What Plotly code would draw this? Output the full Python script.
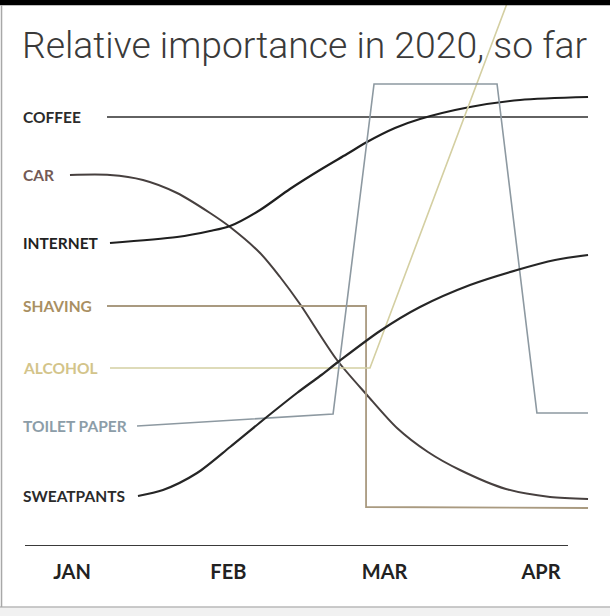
import plotly.graph_objects as go

# x in months after Jan 1 (0 = JAN), y = relative importance
MONTHS = ["JAN", "FEB", "MAR", "APR"]
MONTH_POS = [0, 1, 2, 3]

coffee_x = [0.224, 3.301]
coffee_y = [8.58, 8.58]

car_x = [-0.013, 0.243, 0.454, 0.672, 0.883, 1.011, 1.203, 1.331, 1.458, 1.695, 1.887, 2.079, 2.277, 2.482, 2.776, 3.058, 3.301]
car_y = [7.42, 7.42, 7.32, 7.06, 6.66, 6.38, 5.86, 5.38, 4.84, 3.72, 3.02, 2.36, 1.88, 1.52, 1.14, 0.98, 0.94]

internet_x = [0.243, 0.672, 0.883, 1.011, 1.203, 1.394, 1.586, 1.759, 1.887, 2.066, 2.226, 2.546, 2.866, 3.301]
internet_y = [6.06, 6.18, 6.30, 6.40, 6.72, 7.14, 7.52, 7.84, 8.08, 8.36, 8.54, 8.78, 8.92, 8.98]

shaving_x = [0.224, 1.881, 1.881, 3.301]
shaving_y = [4.80, 4.80, 0.78, 0.76]

alcohol_x = [0.243, 1.906, 2.815]
alcohol_y = [3.56, 3.56, 11.12]

toilet_x = [0.416, 1.670, 1.932, 2.719, 2.974, 3.301]
toilet_y = [2.40, 2.64, 9.24, 9.24, 2.66, 2.66]

sweat_x = [0.422, 0.582, 0.800, 1.011, 1.222, 1.439, 1.586, 1.702, 1.970, 2.226, 2.546, 2.847, 3.090, 3.301]
sweat_y = [1.00, 1.12, 1.46, 1.98, 2.52, 3.06, 3.40, 3.68, 4.30, 4.78, 5.22, 5.52, 5.72, 5.82]

series = [
    # name, x, y, line colour, label colour, shape, width
    ("COFFEE", coffee_x, coffee_y, "#2e2e2e", "#2b2b2b", "linear", 1.6),
    ("CAR", car_x, car_y, "#47403f", "#735a55", "spline", 2),
    ("INTERNET", internet_x, internet_y, "#1f1f1f", "#222222", "spline", 2.2),
    ("SHAVING", shaving_x, shaving_y, "#a99a80", "#a98f62", "linear", 1.8),
    ("ALCOHOL", alcohol_x, alcohol_y, "#d4cfa2", "#d3c48a", "linear", 1.6),
    ("TOILET PAPER", toilet_x, toilet_y, "#8d99a1", "#8c9da8", "linear", 1.6),
    ("SWEATPANTS", sweat_x, sweat_y, "#262626", "#2b2b2b", "spline", 2.2),
]

label_x = -0.326

fig = go.Figure()
for name, xs, ys, lc, tc, shape, w in series:
    fig.add_trace(go.Scatter(
        x=xs, y=ys, mode="lines", name=name,
        line=dict(color=lc, width=w, shape=shape, smoothing=0.8),
        showlegend=False, hoverinfo="skip",
    ))
    fig.add_annotation(
        x=label_x, y=ys[0], text=name, showarrow=False,
        xanchor="left", yanchor="middle",
        font=dict(family="Lato", size=15.5, weight=700, color=tc),
    )

fig.update_layout(
    width=610, height=616,
    margin=dict(l=0, r=0, t=0, b=70),
    paper_bgcolor="white", plot_bgcolor="white",
    title=dict(
        text="Relative importance in 2020, so far",
        x=0.036, xanchor="left", y=0.927, yanchor="middle",
        font=dict(family="Roboto", size=37.3, weight=300, color="#3a3a3a"),
    ),
    xaxis=dict(
        range=[-0.4606, 3.4415], showgrid=False, zeroline=False, showline=False,
        tickvals=MONTH_POS, ticktext=MONTHS,
        ticks="outside", ticklen=8, tickcolor="rgba(0,0,0,0)",
        tickfont=dict(family="Lato", size=20, weight=700, color="#222222"),
        fixedrange=True,
    ),
    yaxis=dict(range=[0, 10.92], visible=False, fixedrange=True),
    shapes=[
        # baseline
        dict(type="line", xref="paper", yref="y", x0=25 / 610, x1=568 / 610, y0=0, y1=0,
             line=dict(color="#3a3a3a", width=2)),
        # black strip at the top
        dict(type="rect", xref="paper", yref="paper", x0=0, x1=1, y0=1 - 6 / 616, y1=1.0,
             fillcolor="black", line_width=0, layer="above"),
        # grey footer
        dict(type="rect", xref="paper", yref="paper", x0=0, x1=1, y0=-70 / 546, y1=-61 / 546,
             fillcolor="#f1f1f1", line_width=0),
        dict(type="line", xref="paper", yref="paper", x0=0, x1=1, y0=-61 / 546, y1=-61 / 546,
             line=dict(color="#b8b8b8", width=1.5)),
        # left frame edge
        dict(type="line", xref="paper", yref="paper", x0=0.0025, x1=0.0025, y0=-61 / 546, y1=1 - 6 / 616,
             line=dict(color="#a8a8a8", width=1.5)),
    ],
)

fig.write_html("out.html", config={"displayModeBar": False},
               post_script="document.body.style.margin='0';document.body.style.overflow='hidden';")
